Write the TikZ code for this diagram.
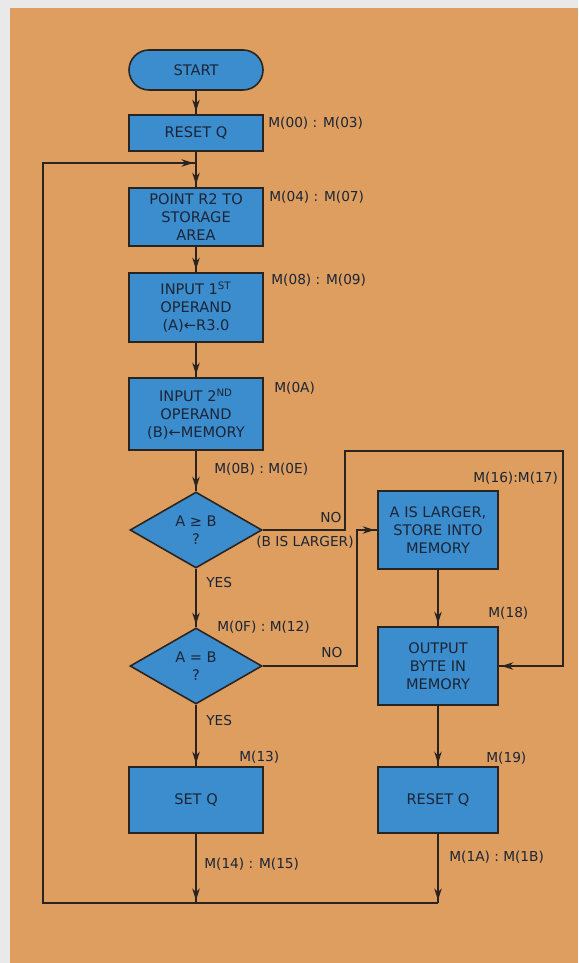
\documentclass[tikz,border=0pt]{standalone}
\usepackage{fontspec}
\newfontfamily\lettering{DejaVu Sans}
\usepackage{tikz}
\usetikzlibrary{arrows.meta,shapes.geometric,decorations.markings}
\definecolor{Paper}{HTML}{DD9E60}
\definecolor{Margin}{HTML}{E9E9EA}
\definecolor{BoxBlue}{HTML}{3C8DCD}
\definecolor{Ink}{HTML}{2A2420}
\definecolor{Navy}{HTML}{1C2536}

\begin{document}
\begin{tikzpicture}[x=0.2mm,y=-0.2mm,
  box/.style={draw=Ink,line width=0.9pt,fill=BoxBlue,text=Navy,align=center,inner sep=0pt,
    font=\lettering\fontsize{8.3}{10.2}\selectfont},
  test/.style={box,diamond,aspect=1.74,minimum width=26.4mm,minimum height=15.2mm},
  lbl/.style={text=Navy,inner sep=0pt,font=\lettering\fontsize{7.8}{9}\selectfont},
  wire/.style={draw=Ink,line width=0.8pt},
  flow/.style={wire,postaction={decorate},
    decoration={markings,mark=at position -1.5pt with {\arrow{Stealth[length=2.4mm,width=1.5mm]}}}}]
  \useasboundingbox (0,0) rectangle (578,963);
  \fill[Margin] (0,0) rectangle (578,963);
  \fill[Paper] (10,8) rectangle (578,963);

  % main column
  \node[box,minimum width=26.8mm,minimum height=8mm,rounded corners=4mm] (start) at (196,70) {START};
  \node[box,minimum width=26.8mm,minimum height=7.2mm] (reset) at (196,133) {RESET Q};
  \node[box,minimum width=26.8mm,minimum height=11.6mm] (point) at (196,217) {POINT R2 TO\\STORAGE\\AREA};
  \node[box,minimum width=26.8mm,minimum height=13.8mm] (first) at (196,307.5) {INPUT 1\textsuperscript{ST}\\OPERAND\\(A)←R3.0};
  \node[box,minimum width=26.8mm,minimum height=14.4mm] (second) at (196,414) {INPUT 2\textsuperscript{ND}\\OPERAND\\(B)←MEMORY};
  \node[test] (ge) at (196,530) {A ≥ B\\?};
  \node[test] (eq) at (196,666) {A = B\\?};
  \node[box,minimum width=26.8mm,minimum height=13.2mm] (setq) at (196,800) {SET Q};

  % right column
  \node[box,minimum width=24mm,minimum height=15.6mm] (larger) at (438,530) {A IS LARGER,\\STORE INTO\\MEMORY};
  \node[box,minimum width=24mm,minimum height=15.6mm] (output) at (438,666) {OUTPUT\\BYTE IN\\MEMORY};
  \node[box,minimum width=24mm,minimum height=13.2mm] (clear) at (438,800) {RESET Q};

  \coordinate (loopin) at (196,163);
  \coordinate (loopl) at (43,163);
  \coordinate (floorl) at (43,903);
  \coordinate (floorm) at (196,903);
  \coordinate (floorr) at (438,903);
  \coordinate (nobend) at (345,451);
  \coordinate (noright) at (563,451);
  \coordinate (eqbend) at (357,530);

  \draw[flow] (start) -- (reset);
  \draw[flow] (reset) -- (point);
  \draw[flow] (floorr) -- (floorl) -- (loopl) -- (loopin);
  \draw[flow] (point) -- (first);
  \draw[flow] (first) -- (second);
  \draw[flow] (second) -- (ge);
  \draw[flow] (ge) -- (eq);
  \draw[flow] (eq) -- (setq);
  \draw[flow] (setq) -- (floorm);
  \draw[flow] (ge.east) -| (nobend) -- (noright) |- (output.east);
  \draw[flow] (eq.east) -| (eqbend) -- (larger.west);
  \draw[flow] (larger) -- (output);
  \draw[flow] (output) -- (clear);
  \draw[flow] (clear) -- (floorr);

  % addresses and branch labels
  \node[lbl,anchor=west] (m00) at (268,123) {M(00) : M(03)};
  \node[lbl,anchor=west] (m04) at (269,197) {M(04) : M(07)};
  \node[lbl,anchor=west] (m08) at (271,280) {M(08) : M(09)};
  \node[lbl,anchor=west] (m0a) at (274,388) {M(0A)};
  \node[lbl,anchor=west] (m0b) at (214,469) {M(0B) : M(0E)};
  \node[lbl] (nohi) at (331,518) {NO};
  \node[lbl] (blarger) at (305,542) {(B IS LARGER)};
  \node[lbl,anchor=west] (yeshi) at (206,583) {YES};
  \node[lbl,anchor=west] (m0f) at (217,627) {M(0F) : M(12)};
  \node[lbl] (nolo) at (332,653) {NO};
  \node[lbl,anchor=west] (yeslo) at (206,721) {YES};
  \node[lbl,anchor=west] (m13) at (239,757) {M(13)};
  \node[lbl,anchor=west] (m14) at (204,864) {M(14) : M(15)};
  \node[lbl,anchor=west] (m16) at (473,478) {M(16):M(17)};
  \node[lbl,anchor=west] (m18) at (488,613) {M(18)};
  \node[lbl,anchor=west] (m19) at (486,758) {M(19)};
  \node[lbl,anchor=west] (m1a) at (449,857) {M(1A) : M(1B)};
\end{tikzpicture}
\end{document}
